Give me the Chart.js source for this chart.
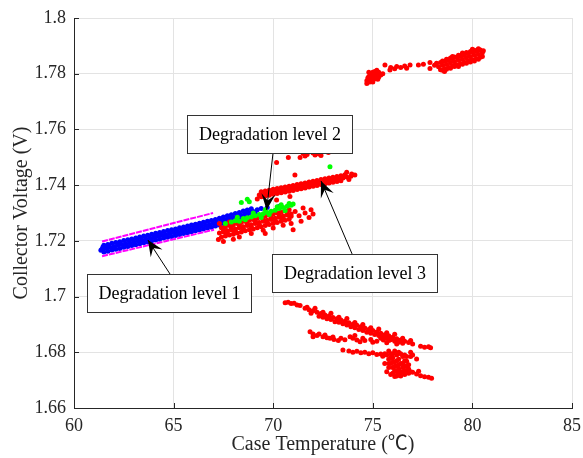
<!DOCTYPE html>
<html>
<head>
<meta charset="utf-8">
<script src="https://cdn.jsdelivr.net/npm/chart.js@4.4.1/dist/chart.umd.min.js"></script>
<style>
  html, body { margin: 0; padding: 0; background: #fff; }
  #wrap { width: 583px; height: 458px; }
</style>
</head>
<body>
<div id="wrap"><canvas id="chart" width="583" height="458"></canvas></div>
<script>
// axis ticks
const xTicks = [60, 65, 70, 75, 80, 85];
const yTicks = [1.66, 1.68, 1.7, 1.72, 1.74, 1.76, 1.78, 1.8];
const yTickLabels = ['1.66', '1.68', '1.7', '1.72', '1.74', '1.76', '1.78', '1.8'];

// degradation level 1 (blue band)
const level1Points = [
  [61.4,1.7170],[61.6,1.7174],[61.8,1.7177],[62.0,1.7180],[62.2,1.7184],[62.4,1.7187],[62.6,1.7190],[62.8,1.7193],
  [63.0,1.7197],[63.2,1.7200],[63.4,1.7203],[63.6,1.7207],[63.8,1.7210],[64.0,1.7213],[64.2,1.7217],[64.4,1.7220],
  [64.6,1.7223],[64.8,1.7226],[65.0,1.7230],[65.2,1.7233],[65.4,1.7236],[65.6,1.7240],[65.8,1.7243],[66.0,1.7246],
  [66.2,1.7250],[66.4,1.7253],[66.6,1.7256],[66.8,1.7259],[67.0,1.7263],[67.2,1.7267],[67.4,1.7271],[67.6,1.7276],
  [67.8,1.7280],[68.0,1.7284],[68.2,1.7288],[68.4,1.7292],[68.6,1.7297],[68.8,1.7301],[69.0,1.7305],
  [61.5,1.7184],[61.7,1.7187],[61.9,1.7191],[62.1,1.7194],[62.3,1.7197],[62.5,1.7201],[62.7,1.7204],[62.9,1.7207],
  [63.1,1.7210],[63.3,1.7214],[63.5,1.7217],[63.7,1.7220],[63.9,1.7224],[64.1,1.7227],[64.3,1.7230],[64.5,1.7234],
  [64.7,1.7237],[64.9,1.7240],[65.1,1.7243],[65.3,1.7247],[65.5,1.7250],[65.7,1.7253],[65.9,1.7257],[66.1,1.7260],
  [66.3,1.7263],[66.5,1.7267],[66.7,1.7270],[66.9,1.7273],[67.1,1.7277],[67.3,1.7281],[67.5,1.7286],[67.7,1.7290],
  [67.9,1.7294],[68.1,1.7298],[68.3,1.7302],[68.5,1.7307],[68.7,1.7311],[68.9,1.7315],
  [61.5,1.7160],[61.7,1.7163],[61.9,1.7167],[62.1,1.7170],[62.3,1.7173],[62.5,1.7177],[62.7,1.7180],[62.9,1.7183],
  [63.1,1.7186],[63.3,1.7190],[63.5,1.7193],[63.7,1.7196],[63.9,1.7200],[64.1,1.7203],[64.3,1.7206],[64.5,1.7210],
  [64.7,1.7213],[64.9,1.7216],[65.1,1.7219],[65.3,1.7223],[65.5,1.7226],[65.7,1.7229],[65.9,1.7233],[66.1,1.7236],
  [66.3,1.7239],[66.5,1.7243],[66.7,1.7246],[66.9,1.7249],[67.1,1.7253],[67.3,1.7257],[67.5,1.7262],[67.7,1.7266],
  [67.9,1.7270],[68.1,1.7274],[68.3,1.7278],[68.5,1.7283],[68.7,1.7287],
  [61.35,1.7166],[61.45,1.7178],[69.2,1.7312],[69.4,1.7316],[69.7,1.7320],[70.3,1.7323],[69.1,1.7300],[64.05,1.7220],[66.05,1.7255]
];

// degradation level 2 (green)
const level2Points = [
  [67.6,1.7262],[67.9,1.7268],[68.1,1.7272],[68.3,1.7270],[68.5,1.7280],[68.7,1.7283],[68.9,1.7286],[69.1,1.7290],
  [69.3,1.7295],[69.5,1.7297],[69.7,1.7302],[69.9,1.7306],[70.1,1.7310],[70.3,1.7316],[70.5,1.7320],[70.7,1.7324],
  [70.9,1.7328],[71.0,1.7332],[68.2,1.7285],[68.6,1.7276],[69.0,1.7300],[69.4,1.7284],[69.8,1.7295],[70.2,1.7322],
  [70.6,1.7308],[70.8,1.7334],[69.6,1.7312],[68.4,1.7338],[68.7,1.7349],[68.8,1.7340],[72.85,1.7466],[70.4,1.7330]
];

// degradation level 3 (red) - cluster overlapping level 1/2
const level3Overlap = [
  [67.3,1.7228],[67.5,1.7232],[67.7,1.7236],[67.9,1.7239],[68.1,1.7243],[68.3,1.7247],[68.5,1.7251],[68.7,1.7255],
  [68.9,1.7258],[69.1,1.7262],[69.3,1.7266],[69.5,1.7270],[69.7,1.7274],[69.9,1.7277],[70.1,1.7281],[70.3,1.7285],
  [70.5,1.7289],[70.7,1.7293],[70.9,1.7296],
  [67.4,1.7247],[67.6,1.7251],[67.8,1.7255],[68.0,1.7258],[68.2,1.7262],[68.4,1.7266],[68.6,1.7270],[68.8,1.7274],
  [69.0,1.7277],[69.2,1.7281],[69.4,1.7285],[69.6,1.7289],[69.8,1.7293],[70.0,1.7296],[70.2,1.7300],[70.4,1.7304],
  [70.6,1.7308],[70.8,1.7312],
  [67.4,1.7213],[67.6,1.7217],[67.8,1.7221],[68.0,1.7224],[68.2,1.7228],[68.4,1.7232],[68.6,1.7236],[68.8,1.7240],
  [69.0,1.7243],[69.2,1.7247],[69.4,1.7251],[69.6,1.7255],[69.8,1.7259],[70.0,1.7262],[70.2,1.7266],[70.4,1.7270],
  [70.6,1.7274],[70.8,1.7278],
  [67.5,1.7240],[67.9,1.7247],[68.3,1.7255],[68.7,1.7263],[69.1,1.7270],[69.5,1.7278],[69.9,1.7285],[70.3,1.7293],
  [70.7,1.7301],
  [67.7,1.7228],[68.1,1.7235],[68.5,1.7243],[68.9,1.7250],[69.3,1.7258],[69.7,1.7266],[70.1,1.7273],[70.5,1.7281],
  [70.9,1.7288],
  [67.25,1.7205],[67.3,1.7262],[67.5,1.7198],[67.8,1.7268],[68.0,1.7206],[68.3,1.7214],[68.9,1.7226],[69.5,1.7238],
  [70.0,1.7246],[70.5,1.7256],[70.9,1.7262],[71.1,1.7305],[71.3,1.7290],[71.5,1.7318],[71.6,1.7300],[71.8,1.7284],
  [71.9,1.7312],[72.0,1.7296],[71.4,1.7270],[71.0,1.7240],[69.6,1.7226]
];

// level 3 - rising streak and small cluster above it
const level3Streak = [
  [69.3,1.7365],[69.5,1.7368],[69.7,1.7371],[69.9,1.7374],[70.1,1.7377],[70.3,1.7380],[70.5,1.7383],[70.7,1.7385],
  [70.9,1.7388],[71.1,1.7391],[71.3,1.7394],[71.5,1.7397],[71.7,1.7400],[71.9,1.7403],[72.1,1.7406],[72.3,1.7409],
  [72.5,1.7412],[72.7,1.7415],[72.9,1.7418],[73.1,1.7420],[73.3,1.7423],[73.5,1.7426],[73.7,1.7429],[73.9,1.7432],
  [69.4,1.7376],[69.6,1.7379],[69.8,1.7382],[70.0,1.7385],[70.2,1.7388],[70.4,1.7391],[70.6,1.7393],[70.8,1.7396],
  [71.0,1.7399],[71.2,1.7402],[71.4,1.7405],[71.6,1.7408],[71.8,1.7411],[72.0,1.7414],[72.2,1.7417],[72.4,1.7420],
  [72.6,1.7423],[72.8,1.7426],[73.0,1.7428],[73.2,1.7431],[73.4,1.7434],[73.6,1.7437],
  [69.4,1.7358],[69.6,1.7361],[69.8,1.7364],[70.0,1.7367],[70.2,1.7370],[70.4,1.7373],[70.6,1.7375],[70.8,1.7378],
  [71.0,1.7381],[71.2,1.7384],[71.4,1.7387],[71.6,1.7390],[71.8,1.7393],[72.0,1.7396],[72.2,1.7399],[72.4,1.7402],
  [72.6,1.7405],[72.8,1.7408],[73.0,1.7410],[73.2,1.7413],[73.4,1.7416],
  [69.2,1.7350],[70.17,1.7347],[70.84,1.7359],[70.17,1.7481],[70.76,1.7499],[71.09,1.7436],[71.35,1.7499],
  [73.69,1.7446],[73.94,1.7440],[74.1,1.7436],[73.8,1.7420],
  [71.5,1.7514],[71.7,1.7510],[71.8,1.7520],[71.88,1.7547],[71.93,1.7532],[72.0,1.7515],[72.1,1.7508],
  [72.18,1.7529],[72.3,1.7512],[72.4,1.7506],[71.6,1.7505],[72.77,1.7517],[71.95,1.7540]
];

// level 3 - upper right cluster
const level3High = [
  [74.7,1.7775],[74.8,1.7790],[74.9,1.7780],[74.9,1.7800],[75.0,1.7770],[75.0,1.7792],[75.1,1.7808],[75.1,1.7783],
  [75.2,1.7796],[75.3,1.7788],[75.3,1.7805],[75.4,1.7795],[75.5,1.7800],[74.8,1.7805],[75.2,1.7812],[74.7,1.7765],
  [74.75,1.7785],[74.85,1.7770],[75.0,1.7805],[75.05,1.7780],[75.15,1.7795],[75.25,1.7780],[75.35,1.7798],[74.95,1.7790],
  [75.61,1.7831],[75.86,1.7813],[75.9,1.7822],[76.1,1.7818],[76.2,1.7826],[76.4,1.7822],[76.6,1.7828],[76.87,1.7831],
  [76.7,1.7820],[77.29,1.7831],[77.54,1.7834],[77.87,1.7840],[77.87,1.7819],[78.1,1.7830],
  [78.3,1.7825],[78.5,1.7830],[78.7,1.7834],[78.9,1.7839],[79.1,1.7843],[79.3,1.7848],[79.5,1.7852],[79.7,1.7857],
  [79.9,1.7861],[80.1,1.7866],[80.3,1.7870],[80.5,1.7875],
  [78.4,1.7840],[78.6,1.7845],[78.8,1.7849],[79.0,1.7854],[79.2,1.7858],[79.4,1.7863],[79.6,1.7867],[79.8,1.7872],
  [80.0,1.7876],[80.2,1.7881],[80.4,1.7885],
  [78.4,1.7814],[78.6,1.7819],[78.8,1.7823],[79.0,1.7828],[79.2,1.7832],[79.4,1.7837],[79.6,1.7841],[79.8,1.7846],
  [80.0,1.7850],[80.2,1.7855],[80.4,1.7859],
  [78.5,1.7846],[78.7,1.7852],[78.9,1.7856],[79.1,1.7860],[79.3,1.7866],[79.5,1.7870],[79.7,1.7876],[79.9,1.7880],
  [80.1,1.7884],[80.3,1.7887],
  [78.5,1.7812],[78.7,1.7816],[78.9,1.7820],[79.1,1.7826],[79.3,1.7830],[79.5,1.7834],[79.7,1.7838],[79.9,1.7842],
  [80.1,1.7846],[80.3,1.7852],[80.5,1.7862],
  [78.6,1.7808],[79.0,1.7862],[79.5,1.7874],[80.0,1.7888],[80.3,1.7890],[80.55,1.7882],[78.2,1.7838],[79.3,1.7826]
];

// level 3 - lower descending bands
const level3Low = [
  [70.6,1.6978],[70.75,1.6980],[70.9,1.6975],[71.05,1.6976],[71.2,1.6970],[71.35,1.6968],
  [71.6,1.6958],[71.8,1.6953],[72.0,1.6949],[72.2,1.6944],[72.4,1.6939],[72.6,1.6934],[72.8,1.6930],[73.0,1.6925],
  [73.2,1.6920],[73.4,1.6916],[73.6,1.6911],[73.8,1.6906],[74.0,1.6901],[74.2,1.6897],[74.4,1.6892],[74.6,1.6887],
  [74.8,1.6882],[75.0,1.6878],[75.2,1.6873],[75.4,1.6868],[75.6,1.6863],[75.8,1.6859],[76.0,1.6854],[76.2,1.6849],
  [76.4,1.6844],[76.6,1.6840],[76.8,1.6835],[77.0,1.6830],
  [71.7,1.6962],[72.5,1.6944],[73.3,1.6926],[74.1,1.6907],[74.9,1.6888],[75.7,1.6870],[76.5,1.6850],[76.9,1.6842],
  [71.9,1.6940],[72.5,1.6926],[72.9,1.6918],[73.3,1.6908],[73.7,1.6898],[74.1,1.6888],[74.5,1.6878],[74.9,1.6868],
  [75.3,1.6860],[75.7,1.6850],[76.1,1.6840],[76.5,1.6832],
  [72.3,1.6929],[72.7,1.6920],[73.1,1.6910],[73.5,1.6902],[73.9,1.6892],[74.3,1.6882],[74.7,1.6872],[75.1,1.6864],
  [75.5,1.6855],[75.9,1.6845],[76.3,1.6836],
  [72.1,1.6958],[72.9,1.6940],[73.7,1.6921],[74.5,1.6900],[75.3,1.6884],[76.1,1.6865],
  [77.4,1.6822],[77.6,1.6818],[77.8,1.6820],[77.9,1.6816],
  [71.85,1.6874],[72.0,1.6866],[72.0,1.6856],[72.2,1.6860],[72.5,1.6856],[72.7,1.6852],[72.85,1.6850],[73.05,1.6846],
  [73.27,1.6842],[73.86,1.6856],[74.0,1.6850],[74.2,1.6844],[74.36,1.6838],[74.6,1.6842],[74.9,1.6846],[75.2,1.6840],
  [75.53,1.6844],[75.7,1.6834],[75.95,1.6850],[76.2,1.6830],
  [72.3,1.6866],[72.6,1.6862],[73.0,1.6855],[73.4,1.6850],[73.6,1.6845],[74.1,1.6860],[74.5,1.6850],[75.0,1.6836],
  [75.4,1.6850],[75.8,1.6842],
  [73.5,1.6808],[73.8,1.6805],[74.0,1.6800],[74.2,1.6804],[74.4,1.6798],[74.6,1.6800],[74.8,1.6795],[75.0,1.6798],
  [75.2,1.6792],[75.4,1.6794],[75.5,1.6786],
  [75.7,1.6790],[75.8,1.6775],[75.9,1.6795],[75.9,1.6760],[76.0,1.6780],[76.0,1.6745],[76.1,1.6805],[76.1,1.6765],
  [76.2,1.6790],[76.2,1.6750],[76.2,1.6730],[76.3,1.6775],[76.3,1.6740],[76.4,1.6760],[76.4,1.6795],[76.5,1.6745],
  [76.5,1.6728],[76.6,1.6770],[76.6,1.6735],[76.7,1.6752],[76.8,1.6740],[76.8,1.6725],[75.7,1.6730],[75.8,1.6745],
  [76.1,1.6713],[76.0,1.6725],[76.3,1.6720],[75.6,1.6760],[76.7,1.6785],[76.9,1.6800],[77.0,1.6790],
  [75.8,1.6805],[75.9,1.6720],[76.0,1.6795],[76.1,1.6735],[76.2,1.6770],[76.3,1.6755],[76.3,1.6800],[76.4,1.6730],
  [76.4,1.6715],[76.5,1.6785],[76.5,1.6760],[76.6,1.6750],[76.6,1.6720],[76.7,1.6735],[76.7,1.6768],[76.8,1.6755],
  [76.9,1.6730],[76.0,1.6765],[75.9,1.6780],[75.8,1.6760],[76.1,1.6750],[76.2,1.6715],[76.6,1.6790],[75.6,1.6795],
  [77.0,1.6728],[77.2,1.6722],[77.4,1.6716],[77.6,1.6712],[77.8,1.6710],[77.95,1.6707],[77.3,1.6732],
  [76.9,1.6785],[77.2,1.6776]
];

// magenta boundary lines around level 1
const boundUpper = [[61.41, 1.7198], [66.98, 1.7300]];
const boundLower = [[61.41, 1.7145], [67.03, 1.7240]];

const toXY = arr => arr.map(p => ({ x: p[0], y: p[1] }));
const level3Points = [].concat(level3Overlap, level3Streak, level3High, level3Low);

// annotation boxes + arrows (data coords)
const notes = [
  { text: 'Degradation level 1', box: [60.65, 1.7081, 68.89, 1.6945], from: [64.82, 1.7081], to: [63.71, 1.7203] },
  { text: 'Degradation level 2', box: [65.67, 1.7652, 73.96, 1.7515], from: [69.99, 1.7515], to: [69.67, 1.7311] },
  { text: 'Degradation level 3', box: [69.94, 1.7153, 78.22, 1.7017], from: [73.96, 1.7153], to: [72.40, 1.7415] }
];

const serif = "'Liberation Serif', 'Times New Roman', 'Noto Sans CJK SC', serif";
const axisColor = '#262626';

function drawArrowHead(ctx, x1, y1, x2, y2) {
  const ang = Math.atan2(y2 - y1, x2 - x1);
  const L = 16, W = 7;
  ctx.save();
  ctx.translate(x2, y2);
  ctx.rotate(ang);
  ctx.beginPath();
  ctx.moveTo(0, 0);
  ctx.lineTo(-L, -W);
  ctx.lineTo(-L * 0.6, 0);
  ctx.lineTo(-L, W);
  ctx.closePath();
  ctx.fillStyle = '#000';
  ctx.fill();
  ctx.restore();
}

const notesPlugin = {
  id: 'notes',
  afterDraw(chart) {
    const { ctx, scales: { x, y }, chartArea } = chart;
    ctx.save();
    // inner tick marks (matlab style)
    ctx.strokeStyle = axisColor;
    ctx.lineWidth = 1;
    ctx.beginPath();
    xTicks.forEach(v => {
      const px = Math.round(x.getPixelForValue(v)) + 0.5;
      ctx.moveTo(px, chartArea.bottom);
      ctx.lineTo(px, chartArea.bottom - 5);
    });
    yTicks.forEach(v => {
      const py = Math.round(y.getPixelForValue(v)) + 0.5;
      ctx.moveTo(chartArea.left, py);
      ctx.lineTo(chartArea.left + 5, py);
    });
    ctx.stroke();

    notes.forEach(n => {
      const x1 = x.getPixelForValue(n.from[0]), y1 = y.getPixelForValue(n.from[1]);
      const x2 = x.getPixelForValue(n.to[0]), y2 = y.getPixelForValue(n.to[1]);
      ctx.strokeStyle = '#000';
      ctx.lineWidth = 1;
      ctx.beginPath();
      ctx.moveTo(x1, y1);
      ctx.lineTo(x2, y2);
      ctx.stroke();
      drawArrowHead(ctx, x1, y1, x2, y2);

      const bl = Math.round(x.getPixelForValue(n.box[0])) + 0.5;
      const bt = Math.round(y.getPixelForValue(n.box[1])) + 0.5;
      const br = Math.round(x.getPixelForValue(n.box[2])) + 0.5;
      const bb = Math.round(y.getPixelForValue(n.box[3])) + 0.5;
      ctx.fillStyle = '#fff';
      ctx.fillRect(bl, bt, br - bl, bb - bt);
      ctx.strokeStyle = '#333';
      ctx.strokeRect(bl, bt, br - bl, bb - bt);
      ctx.fillStyle = '#000';
      ctx.font = '18px ' + serif;
      ctx.textAlign = 'center';
      ctx.textBaseline = 'middle';
      ctx.fillText(n.text, (bl + br) / 2, (bt + bb) / 2 + 1);
    });
    ctx.restore();
  }
};

const dot = 2.5;

new Chart(document.getElementById('chart'), {
  type: 'scatter',
  data: {
    datasets: [
      { data: toXY(boundUpper), showLine: true, borderColor: '#ff00ff', borderWidth: 2, borderDash: [6, 1], pointRadius: 0 },
      { data: toXY(boundLower), showLine: true, borderColor: '#ff00ff', borderWidth: 2, borderDash: [6, 1], pointRadius: 0 },
      { data: toXY(level2Points), backgroundColor: '#00ff00', pointRadius: dot, borderWidth: 0 },
      { data: toXY(level3Points), backgroundColor: '#ff0000', pointRadius: dot, borderWidth: 0 },
      { data: toXY(level1Points), backgroundColor: '#0000ff', pointRadius: dot, borderWidth: 0 }
    ]
  },
  options: {
    responsive: false,
    animation: false,
    devicePixelRatio: 1,
    layout: { padding: { top: 18, right: 11, left: 0, bottom: 0 } },
    plugins: { legend: { display: false }, tooltip: { enabled: false } },
    scales: {
      x: {
        type: 'linear', min: 60, max: 85,
        afterBuildTicks: s => { s.ticks = xTicks.map(v => ({ value: v })); },
        afterFit: s => { s.height = 50; s.paddingLeft = 0; s.paddingRight = 0; },
        grid: { color: '#e3e3e3', drawTicks: false },
        border: { display: true, color: axisColor, width: 1 },
        ticks: { color: axisColor, padding: 7, font: { family: serif, size: 18 } },
        title: { display: true, text: 'Case Temperature (℃)', color: axisColor, padding: { top: 0, bottom: 1 }, font: { family: serif, size: 20 } }
      },
      y: {
        type: 'linear', min: 1.66, max: 1.8,
        afterBuildTicks: s => { s.ticks = yTicks.map(v => ({ value: v })); },
        afterFit: s => { s.width = 74; s.paddingTop = 0; s.paddingBottom = 0; },
        grid: { color: '#e3e3e3', drawTicks: false },
        border: { display: true, color: axisColor, width: 1 },
        ticks: {
          color: axisColor, padding: 8, font: { family: serif, size: 18 },
          callback: (v, i) => yTickLabels[yTicks.indexOf(Number(v.toFixed(2)))]
        },
        title: { display: true, text: 'Collector Voltage (V)', color: axisColor, padding: { top: 10, bottom: 0 }, font: { family: serif, size: 20 } }
      }
    }
  },
  plugins: [notesPlugin]
});
</script>
</body>
</html>
